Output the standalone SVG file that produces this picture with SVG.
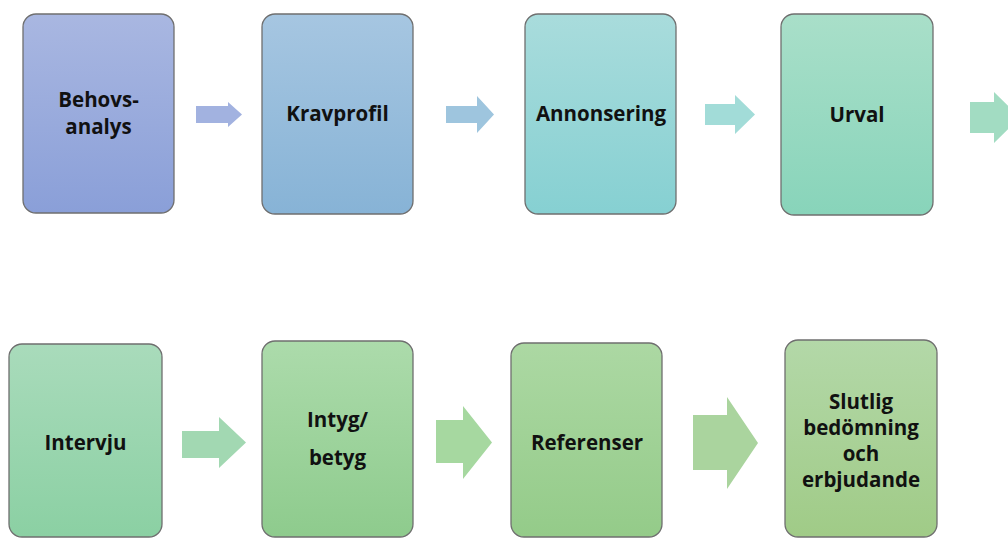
<svg xmlns="http://www.w3.org/2000/svg" width="1008" height="538" viewBox="0 0 1008 538">
  <defs>
    <linearGradient id="g1" x1="0" y1="0" x2="0" y2="1"><stop offset="0" stop-color="#a9b7e1"/><stop offset="1" stop-color="#8a9fd8"/></linearGradient>
    <linearGradient id="g2" x1="0" y1="0" x2="0" y2="1"><stop offset="0" stop-color="#a6c6e1"/><stop offset="1" stop-color="#87b3d6"/></linearGradient>
    <linearGradient id="g3" x1="0" y1="0" x2="0" y2="1"><stop offset="0" stop-color="#a9dcdc"/><stop offset="1" stop-color="#86d0d2"/></linearGradient>
    <linearGradient id="g4" x1="0" y1="0" x2="0" y2="1"><stop offset="0" stop-color="#a9dfc9"/><stop offset="1" stop-color="#88d4ba"/></linearGradient>
    <linearGradient id="g5" x1="0" y1="0" x2="0" y2="1"><stop offset="0" stop-color="#a9dbbb"/><stop offset="1" stop-color="#8bd0a3"/></linearGradient>
    <linearGradient id="g6" x1="0" y1="0" x2="0" y2="1"><stop offset="0" stop-color="#acdbab"/><stop offset="1" stop-color="#8ecb8d"/></linearGradient>
    <linearGradient id="g7" x1="0" y1="0" x2="0" y2="1"><stop offset="0" stop-color="#acd8a3"/><stop offset="1" stop-color="#94cb89"/></linearGradient>
    <linearGradient id="g8" x1="0" y1="0" x2="0" y2="1"><stop offset="0" stop-color="#b3d8a8"/><stop offset="1" stop-color="#a0cb87"/></linearGradient>
  </defs>
  <style>
    .box { stroke: #6f6f6f; stroke-width: 1.3; }
    .arrow { stroke: none; }
    .label { font-family: "Open Sans", "Liberation Sans", sans-serif; font-weight: 700; font-size: 20.5px; fill: #111; text-anchor: middle; }
  </style>
  <rect width="1008" height="538" fill="#ffffff"/>

  <!-- connectors: block arrows between steps -->
  <g id="connectors">
    <polygon class="arrow" fill="#a2b2e0" points="196,106 228,106 228,102 242,114.5 228,127 228,123 196,123"/>
    <polygon class="arrow" fill="#9ec5de" points="446,106 477,106 477,96 494,114.5 477,133 477,123 446,123"/>
    <polygon class="arrow" fill="#a2dcd8" points="705,104 735,104 735,95 755,114.5 735,134 735,125 705,125"/>
    <polygon class="arrow" fill="#a2dcc2" points="970,102 994,102 994,92 1020,117.5 994,143 994,133 970,133"/>
    <polygon class="arrow" fill="#a2d8b2" points="182,431 219,431 219,417 246,442.5 219,468 219,458 182,458"/>
    <polygon class="arrow" fill="#a6d8a0" points="436,420 463,420 463,406 492,442.5 463,479 463,463 436,463"/>
    <polygon class="arrow" fill="#aad49e" points="693,415 727,415 727,397 758,443 727,489 727,470 693,470"/>
  </g>

  <g id="node-behovsanalys">
    <rect class="box" x="23" y="14" width="151" height="199" rx="13" fill="url(#g1)"/>
    <text class="label" x="98.5" y="107">Behovs-</text>
    <text class="label" x="98.5" y="134">analys</text>
  </g>
  <g id="node-kravprofil">
    <rect class="box" x="262" y="14" width="151" height="200" rx="13" fill="url(#g2)"/>
    <text class="label" x="337.5" y="121">Kravprofil</text>
  </g>
  <g id="node-annonsering">
    <rect class="box" x="525" y="14" width="151" height="200" rx="13" fill="url(#g3)"/>
    <text class="label" x="601" y="121">Annonsering</text>
  </g>
  <g id="node-urval">
    <rect class="box" x="781" y="14" width="152" height="201" rx="13" fill="url(#g4)"/>
    <text class="label" x="857" y="122">Urval</text>
  </g>

  <g id="node-intervju">
    <rect class="box" x="9" y="344" width="153" height="193" rx="13" fill="url(#g5)"/>
    <text class="label" x="85.5" y="450">Intervju</text>
  </g>
  <g id="node-intyg">
    <rect class="box" x="262" y="341" width="151" height="196" rx="13" fill="url(#g6)"/>
    <text class="label" x="337.5" y="427">Intyg/</text>
    <text class="label" x="337.5" y="465">betyg</text>
  </g>
  <g id="node-referenser">
    <rect class="box" x="511" y="343" width="151" height="194" rx="13" fill="url(#g7)"/>
    <text class="label" x="587" y="450">Referenser</text>
  </g>
  <g id="node-slutlig">
    <rect class="box" x="785" y="340" width="152" height="197" rx="13" fill="url(#g8)"/>
    <text class="label" x="861" y="409">Slutlig</text>
    <text class="label" x="861" y="435">bedömning</text>
    <text class="label" x="861" y="461">och</text>
    <text class="label" x="861" y="487">erbjudande</text>
  </g>
</svg>
